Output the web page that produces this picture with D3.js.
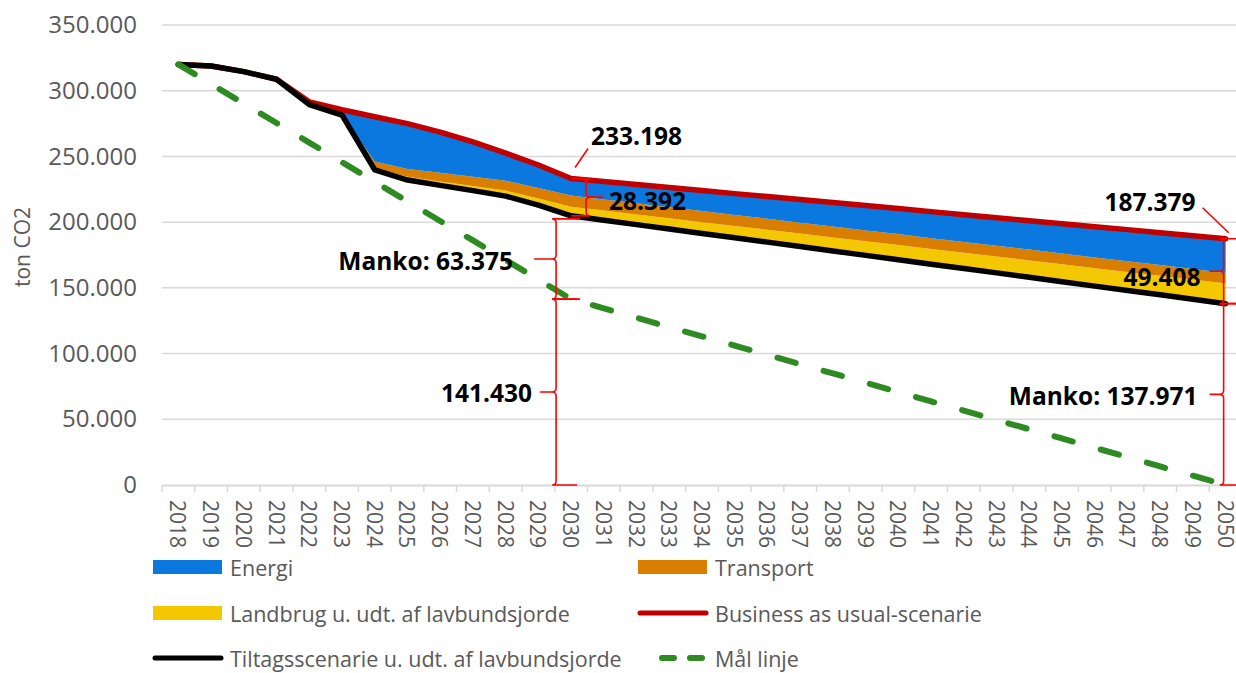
<!DOCTYPE html>
<html>
<head>
<meta charset="utf-8">
<script src="https://cdn.jsdelivr.net/npm/d3@7"></script>
<style>
  body { margin: 0; background: #fff; }
  svg { display: block; font-family: "Open Sans", sans-serif; }
</style>
</head>
<body>
<div id="chart"></div>
<script>
const width = 1236;
const height = 673;

var color_energi = '#0b78e0'
var color_transport = '#da7e00'
var color_landbrug = '#f4c800'
var color_bau = '#c00000'
var color_tiltag = '#000000'
var color_maal = '#2e8b22'
var color_note = '#ff0000'
var color_text = '#595959'
var color_grid = '#d9d9d9'

// data
const years = [2018, 2019, 2020, 2021, 2022, 2023, 2024, 2025, 2026, 2027, 2028,
  2029, 2030, 2031, 2032, 2033, 2034, 2035, 2036, 2037, 2038, 2039, 2040,
  2041, 2042, 2043, 2044, 2045, 2046, 2047, 2048, 2049, 2050];

const tiltag = [320000, 318800, 314500, 308700, 289500, 281500, 239700, 232000,
  228000, 224000, 219800, 213000, 204806, 201500, 198100, 194800, 191400,
  188100, 184800, 181400, 178100, 174700, 171400, 168000, 164700, 161400,
  158000, 154700, 151300, 148000, 144700, 141300, 137971];

const landbrug = [0, 0, 0, 0, 0, 0, 1500, 2500, 3000, 3500, 4200, 5000, 6892,
  7300, 7700, 8200, 8600, 9000, 9400, 9900, 10300, 10700, 11200, 11600,
  12000, 12400, 12900, 13300, 13700, 14100, 14600, 15000, 15408];

const transport = [0, 0, 0, 0, 0, 0, 5000, 6000, 6500, 7000, 7500, 8000, 8500,
  8500, 8500, 8400, 8400, 8400, 8400, 8300, 8300, 8300, 8300, 8200, 8200,
  8200, 8200, 8100, 8100, 8100, 8100, 8000, 8000];

const energi = [0, 0, 0, 0, 2000, 4000, 34000, 34500, 31000, 26500, 21000, 17500,
  13000, 13600, 14300, 14900, 15600, 16200, 16900, 17600, 18200, 18900,
  19400, 20200, 20800, 21400, 22000, 22600, 23300, 24000, 24500, 25400, 26000];

const bau = [320000, 318800, 314500, 308700, 291500, 285500, 280200, 275000,
  268500, 261000, 252500, 243500, 233198, 230900, 228600, 226300, 224000,
  221700, 219500, 217200, 214900, 212600, 210300, 208000, 205700, 203400,
  201100, 198800, 196500, 194300, 192000, 189700, 187379];

const maal = [320000, 305100, 290200, 275400, 260500, 245600, 230700, 215800,
  200900, 186100, 171200, 156300, 141430, 134400, 127300, 120200, 113100,
  106100, 99000, 91900, 84900, 77800, 70700, 63600, 56600, 49500, 42400,
  35400, 28300, 21200, 14100, 7100, 0];

const yTicks = [0, 50000, 100000, 150000, 200000, 250000, 300000, 350000];

const seriesNames = ['Energi', 'Transport', 'Landbrug u. udt. af lavbundsjorde',
  'Business as usual-scenarie', 'Tiltagsscenarie u. udt. af lavbundsjorde', 'Mål linje'];

const noteTexts = ['233.198', '28.392', 'Manko: 63.375', '141.430',
  '187.379', '49.408', 'Manko: 137.971'];

const dk = d3.formatLocale({decimal: ',', thousands: '.', grouping: [3], currency: ['', ' kr']});
const fmt = dk.format(',');

var svg = d3.select('div#chart')
  .append('svg')
  .attr('width', width)
  .attr('height', height);

const x = d3.scaleBand()
  .domain(years)
  .range([162, 1242])
  .padding(0);

const xc = function(yr) { return x(yr) + x.bandwidth() / 2; };

const y = d3.scaleLinear()
  .domain([0, 350000])
  .range([485, 25]);

// gridlines
svg.append('g')
  .selectAll('line')
  .data(yTicks.filter(function(d) { return d > 0; }))
  .enter()
  .append('line')
  .attr('x1', 162)
  .attr('x2', width + 20)
  .attr('y1', function(d) { return y(d); })
  .attr('y2', function(d) { return y(d); })
  .attr('stroke', color_grid)
  .attr('stroke-width', 1.5);

// y axis (labels only)
const yAxis = svg.append('g')
  .attr('transform', 'translate(162,0)')
  .call(d3.axisLeft(y).tickValues(yTicks).tickSize(0).tickPadding(25).tickFormat(fmt));
yAxis.select('.domain').remove();
yAxis.selectAll('text')
  .attr('fill', color_text)
  .style('font-size', '24px')
  .style('font-family', '"Open Sans", sans-serif');

svg.append('text')
  .attr('transform', 'translate(22,247) rotate(-90)')
  .attr('text-anchor', 'middle')
  .attr('dominant-baseline', 'central')
  .attr('fill', color_text)
  .style('font-size', '21px')
  .text('ton CO2');

// x axis
const xAxis = svg.append('g')
  .attr('transform', 'translate(0,485)')
  .call(d3.axisBottom(x).tickSize(0).tickFormat(String));
xAxis.select('.domain').attr('stroke', color_grid).attr('stroke-width', 2);
xAxis.selectAll('.tick text')
  .attr('fill', color_text)
  .style('font-size', '21px')
  .style('font-family', '"Open Sans", sans-serif')
  .attr('text-anchor', 'start')
  .attr('dominant-baseline', 'central')
  .attr('transform', 'translate(0,15) rotate(90)')
  .attr('x', 0)
  .attr('y', 0)
  .attr('dy', null);

// tick marks between categories
svg.append('g')
  .selectAll('line')
  .data(years)
  .enter()
  .append('line')
  .attr('x1', function(d) { return x(d); })
  .attr('x2', function(d) { return x(d); })
  .attr('y1', 485)
  .attr('y2', 492)
  .attr('stroke', color_grid)
  .attr('stroke-width', 1.5);

// stacked areas on top of the tiltag line
const table = years.map(function(yr, i) {
  return {year: yr, base: tiltag[i], landbrug: landbrug[i], transport: transport[i], energi: energi[i]};
});

const stack = d3.stack().keys(['base', 'landbrug', 'transport', 'energi']);
const layers = stack(table);
const layerColors = {landbrug: color_landbrug, transport: color_transport, energi: color_energi};

const area = d3.area()
  .x(function(d) { return xc(d.data.year); })
  .y0(function(d) { return y(d[0]); })
  .y1(function(d) { return y(d[1]); });

svg.append('g')
  .selectAll('path')
  .data(layers.filter(function(l) { return l.key !== 'base'; }))
  .enter()
  .append('path')
  .attr('d', area)
  .attr('fill', function(l) { return layerColors[l.key]; });

const line = d3.line()
  .x(function(d, i) { return xc(years[i]); })
  .y(function(d) { return y(d); });

svg.append('path')
  .datum(bau)
  .attr('d', line)
  .attr('fill', 'none')
  .attr('stroke', color_bau)
  .attr('stroke-width', 5.5)
  .attr('stroke-linejoin', 'round')
  .attr('stroke-linecap', 'round');

svg.append('path')
  .datum(tiltag)
  .attr('d', line)
  .attr('fill', 'none')
  .attr('stroke', color_tiltag)
  .attr('stroke-width', 5.5)
  .attr('stroke-linejoin', 'round')
  .attr('stroke-linecap', 'round');

svg.append('path')
  .datum(maal)
  .attr('d', line)
  .attr('fill', 'none')
  .attr('stroke', color_maal)
  .attr('stroke-width', 6)
  .attr('stroke-linecap', 'round')
  .attr('stroke-dasharray', '19,29');

// annotations
const notes = svg.append('g');
const i30 = years.indexOf(2030);
const i50 = years.indexOf(2050);
const x30 = xc(2030);
const x50 = xc(2050);

function brace(xv, y1, y2, dir, tip, hook) {
  // vertical brace at xv from y1 to y2, tip points in dir (-1 left, 1 right)
  const ym = (y1 + y2) / 2;
  const r = 4;
  return 'M' + hook + ',' + y1 +
    'L' + (xv + dir * r) + ',' + y1 +
    'Q' + xv + ',' + y1 + ' ' + xv + ',' + (y1 + r) +
    'L' + xv + ',' + (ym - r) +
    'Q' + xv + ',' + ym + ' ' + (xv + dir * r) + ',' + ym +
    'L' + (xv + dir * tip) + ',' + ym +
    'M' + (xv + dir * r) + ',' + ym +
    'Q' + xv + ',' + ym + ' ' + xv + ',' + (ym + r) +
    'L' + xv + ',' + (y2 - r) +
    'Q' + xv + ',' + y2 + ' ' + (xv + dir * r) + ',' + y2 +
    'L' + hook + ',' + y2;
}

function addPath(d) {
  notes.append('path')
    .attr('d', d)
    .attr('fill', 'none')
    .attr('stroke', color_note)
    .attr('stroke-width', 1.6);
}

function addLabel(txt, px, py, anchor) {
  notes.append('text')
    .attr('x', px)
    .attr('y', py)
    .attr('text-anchor', anchor)
    .attr('dominant-baseline', 'central')
    .attr('fill', '#000')
    .style('font-size', '24.5px')
    .style('font-weight', 'bold')
    .text(txt);
}

// 2030
addPath('M' + (x30 + 4) + ',' + (y(bau[i30]) - 11) + 'L' + (x30 + 17) + ',' + (y(bau[i30]) - 30));
addLabel(noteTexts[0], x30 + 20, y(bau[i30]) - 43, 'start');

addPath(brace(x30 + 15, y(bau[i30]), y(tiltag[i30]), 1, 17, x30));
addLabel(noteTexts[1], x30 + 38, (y(bau[i30]) + y(tiltag[i30])) / 2 + 3, 'start');

addPath(brace(x30 - 15, y(tiltag[i30]) + 3, y(maal[i30]), -1, 22, x30 + 9));
addLabel(noteTexts[2], x30 - 58, (y(tiltag[i30]) + y(maal[i30])) / 2 + 3, 'end');

addPath(brace(x30 - 15, y(maal[i30]), y(0), -1, 16, x30 + 6));
addLabel(noteTexts[3], x30 - 39, (y(maal[i30]) + y(0)) / 2, 'end');

// 2050
addPath('M' + (x50 + 3) + ',' + (y(bau[i50]) - 6) + 'L' + (x50 - 23) + ',' + (y(bau[i50]) - 31));
addLabel(noteTexts[4], x50 - 30, y(bau[i50]) - 37, 'end');

addPath(brace(x50 - 2, y(bau[i50]), y(tiltag[i50]), -1, 14, x50 + 14));
addLabel(noteTexts[5], x50 - 25, (y(bau[i50]) + y(tiltag[i50])) / 2 + 5, 'end');

addPath(brace(x50 - 2, y(tiltag[i50]), y(0), -1, 14, x50 + 14));
addLabel(noteTexts[6], x50 - 28, (y(tiltag[i50]) + y(0)) / 2 + 1, 'end');

// legend
const legend = svg.append('g');
const legendItems = [
  {name: seriesNames[0], kind: 'rect', color: color_energi, lx: 153, ly: 567},
  {name: seriesNames[1], kind: 'rect', color: color_transport, lx: 638, ly: 567},
  {name: seriesNames[2], kind: 'rect', color: color_landbrug, lx: 153, ly: 613},
  {name: seriesNames[3], kind: 'line', color: color_bau, lx: 638, ly: 613},
  {name: seriesNames[4], kind: 'line', color: color_tiltag, lx: 153, ly: 658},
  {name: seriesNames[5], kind: 'dash', color: color_maal, lx: 638, ly: 658}
];

legendItems.forEach(function(it) {
  if (it.kind === 'rect') {
    legend.append('rect')
      .attr('x', it.lx).attr('y', it.ly - 7)
      .attr('width', 69).attr('height', 14)
      .attr('fill', it.color);
  } else if (it.kind === 'line') {
    legend.append('line')
      .attr('x1', it.lx + 2).attr('x2', it.lx + 68)
      .attr('y1', it.ly).attr('y2', it.ly)
      .attr('stroke', it.color).attr('stroke-width', 5)
      .attr('stroke-linecap', 'round');
  } else {
    legend.append('line')
      .attr('x1', it.lx + 24).attr('x2', it.lx + 70)
      .attr('y1', it.ly).attr('y2', it.ly)
      .attr('stroke', it.color).attr('stroke-width', 6)
      .attr('stroke-linecap', 'round')
      .attr('stroke-dasharray', '12,16');
  }
  legend.append('text')
    .attr('x', it.lx + 77)
    .attr('y', it.ly)
    .attr('dominant-baseline', 'central')
    .attr('fill', color_text)
    .style('font-size', '21.5px')
    .text(it.name);
});
</script>
</body>
</html>
